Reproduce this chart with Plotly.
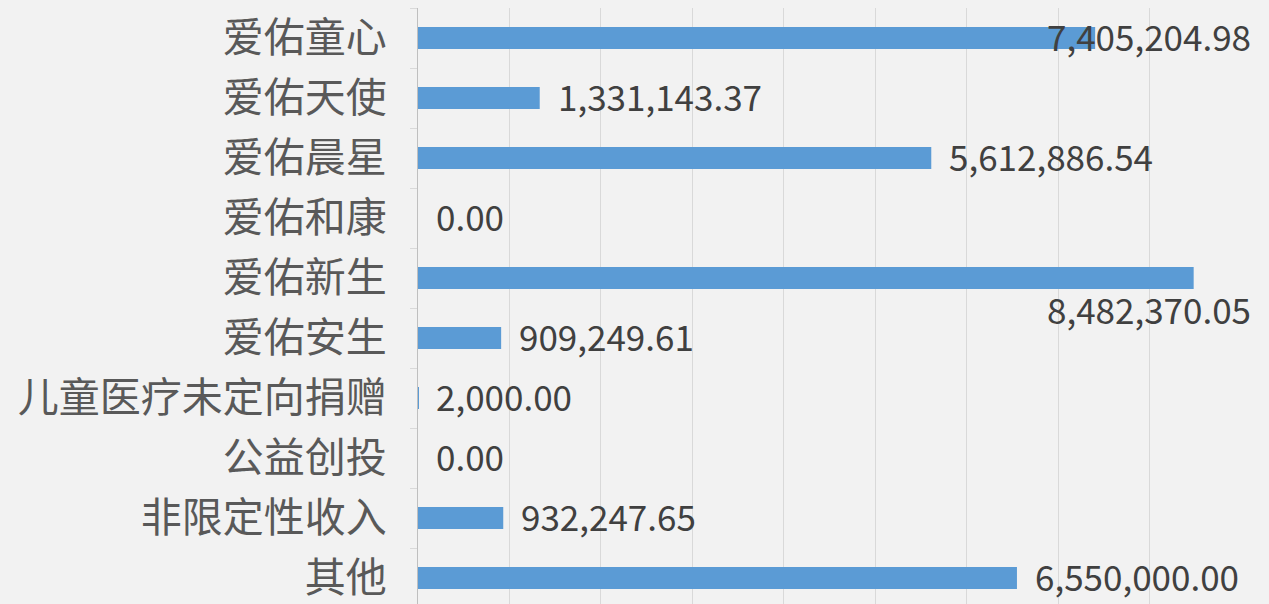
import plotly.graph_objects as go

categories = ["爱佑童心", "爱佑天使", "爱佑晨星", "爱佑和康", "爱佑新生",
              "爱佑安生", "儿童医疗未定向捐赠", "公益创投", "非限定性收入", "其他"]
values = [7405204.98, 1331143.37, 5612886.54, 0.00, 8482370.05,
          909249.61, 2000.00, 0.00, 932247.65, 6550000.00]

fig = go.Figure()
fig.add_trace(go.Bar(
    x=values, y=categories, orientation="h",
    marker=dict(color="#5b9bd5", line=dict(width=0)),
    width=0.37, hoverinfo="x+y",
))

XMAX = 9e6
for cat, v in zip(categories, values):
    txt = f"{v:,.2f}"
    font = dict(family="Noto Sans CJK SC", size=35, color="#404040")
    if v >= 8e6:
        fig.add_annotation(x=XMAX, y=cat, text=txt, showarrow=False,
                           xanchor="right", yanchor="middle", xshift=12, yshift=-30, font=font)
    elif v >= 7e6:
        fig.add_annotation(x=XMAX, y=cat, text=txt, showarrow=False,
                           xanchor="right", yanchor="middle", xshift=12, yshift=3, font=font)
    else:
        fig.add_annotation(x=v, y=cat, text=txt, showarrow=False,
                           xanchor="left", yanchor="middle", xshift=16, yshift=3, font=font)

fig.update_layout(
    width=1269, height=604,
    margin=dict(l=418, r=28, t=8, b=0),
    paper_bgcolor="#f2f2f2", plot_bgcolor="#f2f2f2",
    showlegend=False,
    xaxis=dict(range=[0, XMAX], dtick=1e6, showticklabels=False,
               showgrid=True, gridcolor="#d9d9d9", gridwidth=1,
               zeroline=False, showline=False, fixedrange=True, automargin=False),
    yaxis=dict(categoryorder="array", categoryarray=categories,
               range=[9.433, -0.5], showline=True, linecolor="#bfbfbf", linewidth=1,
               ticks="outside", tickson="boundaries", ticklen=7, tickcolor="#d9d9d9",
               ticklabelstandoff=22, automargin=False,
               tickfont=dict(family="Noto Sans CJK SC", size=41, color="#595959"),
               showgrid=False, fixedrange=True),
)
fig.update_traces(cliponaxis=False)

fig.write_html(
    "out.html",
    config={"displayModeBar": False},
    post_script="document.body.style.margin='0';document.body.style.overflow='hidden';"
                "document.body.style.background='#f2f2f2';",
)
